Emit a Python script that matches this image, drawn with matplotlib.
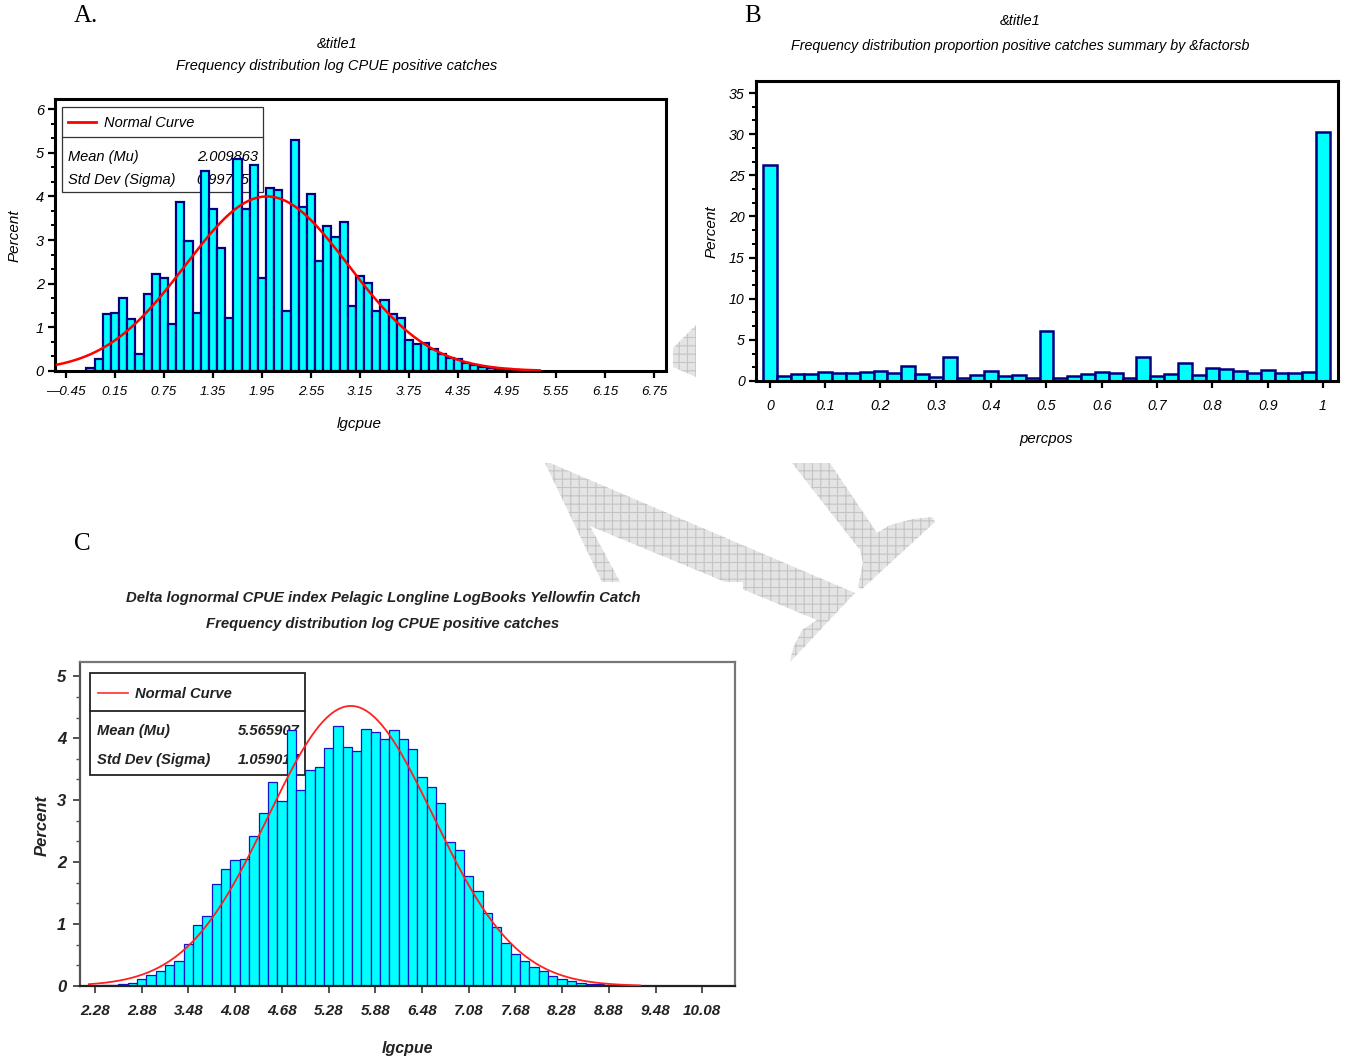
import numpy as np
import matplotlib
matplotlib.use('Agg')
import matplotlib.pyplot as plt
from matplotlib.patches import Rectangle, Polygon
from matplotlib.ticker import MultipleLocator

# ---------------- data ----------------
# panel A: log CPUE positive catches, bins of 0.1 starting at midpoint -0.15
a_first_mid = -0.15
a_bin = 0.1
a_pct = [0.06, 0.27, 1.31, 1.33, 1.67, 1.19, 0.40, 1.77, 2.23, 2.12,
         1.08, 3.87, 2.98, 1.33, 4.59, 3.72, 2.81, 1.21, 4.85, 3.70,
         4.72, 2.14, 4.19, 4.15, 1.38, 5.29, 3.76, 4.05, 2.52, 3.33,
         3.07, 3.42, 1.49, 2.18, 2.02, 1.37, 1.62, 1.30, 1.22, 0.72,
         0.61, 0.65, 0.51, 0.38, 0.29, 0.27, 0.19, 0.13, 0.10, 0.08,
         0.05, 0.04, 0.02, 0.01]
a_mean = 2.009863
a_sd = 0.997754
a_xticks = [-0.45, 0.15, 0.75, 1.35, 1.95, 2.55, 3.15, 3.75, 4.35, 4.95, 5.55, 6.15, 6.75]

# panel B: proportion positive, bins of 0.025 from 0 to 1
b_bin = 0.025
b_pct = [26.2, 0.6, 0.85, 0.85, 1.13, 0.93, 0.93, 1.13, 1.25, 0.93,
         1.86, 0.85, 0.53, 2.95, 0.4, 0.73, 1.25, 0.65, 0.73, 0.4,
         6.1, 0.4, 0.65, 0.8, 1.13, 0.93, 0.4, 2.95, 0.6, 0.85,
         2.22, 0.73, 1.54, 1.41, 1.25, 1.0, 1.33, 0.93, 0.93, 1.13,
         30.3]
b_xticks = [0, 0.1, 0.2, 0.3, 0.4, 0.5, 0.6, 0.7, 0.8, 0.9, 1.0]
b_xlabels = ['0', '0.1', '0.2', '0.3', '0.4', '0.5', '0.6', '0.7', '0.8', '0.9', '1']

# panel C: delta lognormal, bins of 0.12 starting at midpoint 2.28
c_first_mid = 2.28
c_bin = 0.12
c_pct = [0.005, 0.01, 0.015, 0.03, 0.05, 0.12, 0.17, 0.24, 0.34, 0.41,
         0.67, 0.98, 1.13, 1.65, 1.89, 2.04, 2.05, 2.42, 2.80, 3.30,
         2.98, 4.13, 3.16, 3.49, 3.53, 3.84, 4.19, 3.86, 3.80, 4.15,
         4.10, 3.98, 4.13, 3.98, 3.83, 3.38, 3.22, 2.95, 2.32, 2.20,
         1.77, 1.53, 1.18, 0.95, 0.70, 0.51, 0.41, 0.30, 0.25, 0.16,
         0.12, 0.08, 0.05, 0.04, 0.03, 0.02, 0.01, 0.01, 0.005, 0.005,
         0.005, 0.005, 0.005, 0.005, 0.0, 0.0, 0.0, 0.005]
c_mean = 5.565907
c_sd = 1.059017
c_xticks = [2.28, 2.88, 3.48, 4.08, 4.68, 5.28, 5.88, 6.48, 7.08, 7.68, 8.28, 8.88, 9.48, 10.08]

# ---------------- style ----------------
W, H = 1348, 1061
plt.rcParams['font.family'] = ['Liberation Sans', 'DejaVu Sans']
plt.rcParams['hatch.linewidth'] = 0.8
SERIF = ['Liberation Serif', 'DejaVu Serif']

CYAN = '#00FFFF'
NAVY = '#000080'
INK = '#222222'

fig = plt.figure(figsize=(W / 100, H / 100), dpi=100)


def px_axes(l, t, r, b):
    return fig.add_axes([l / W, 1 - b / H, (r - l) / W, (b - t) / H])


def ftext(x, y, s, **kw):
    kw.setdefault('ha', 'center')
    kw.setdefault('va', 'center')
    return fig.text(x / W, 1 - y / H, s, **kw)


def pxpoly(pts):
    return [(x / W, 1 - y / H) for x, y in pts]


def normal_pct(x, mu, sd, width):
    return 100 * width * np.exp(-0.5 * ((x - mu) / sd) ** 2) / (sd * np.sqrt(2 * np.pi))


# ---------------- watermark ----------------
wm_kw = dict(transform=fig.transFigure, facecolor='#e4e4e4', edgecolor='#c4c4c4',
             hatch='++', linewidth=0, zorder=-3)
fig.add_artist(Polygon(pxpoly([(673, 348), (696, 325), (696, 377), (673, 367)]), **wm_kw))
fig.add_artist(Polygon(pxpoly([(545, 463), (550, 463), (855, 593), (790, 662), (793, 648),
                               (802, 630), (817, 620), (590, 526), (620, 582), (602, 582)]), **wm_kw))
fig.add_artist(Polygon(pxpoly([(792, 463), (830, 463), (877, 533), (890, 525), (913, 519),
                               (932, 517), (935, 522), (862, 589), (858, 587), (863, 563),
                               (860, 550)]), **wm_kw))
# panel C picture sits on top of the watermark
fig.add_artist(Rectangle((0, 0), 743 / W, 1 - 582 / H, transform=fig.transFigure,
                         facecolor='white', edgecolor='none', zorder=-2))

# ---------------- panel A ----------------
ax = px_axes(55, 99, 666, 371)
a_mid = a_first_mid + a_bin * np.arange(len(a_pct))
ax.bar(a_mid, a_pct, width=a_bin, color=CYAN, edgecolor=NAVY, linewidth=1.6, zorder=2)
xa = np.linspace(-0.56, 5.35, 300)
ax.plot(xa, normal_pct(xa, a_mean, a_sd, a_bin), color='#FF0000', lw=1.8, zorder=3)
ax.set_xlim(-0.585, 6.897)
ax.set_ylim(0, 6.23)
ax.set_xticks(a_xticks, [f'{v:.2f}'.replace('-', '\u2014') for v in a_xticks])
ax.set_yticks(range(7))
ax.yaxis.set_minor_locator(MultipleLocator(1 / 3))
ax.tick_params(axis='both', which='major', direction='out', length=5, width=1.6, labelsize=9.6)
ax.tick_params(axis='x', pad=6)
ax.tick_params(axis='y', pad=3, labelsize=10.5)
ax.tick_params(axis='y', which='minor', direction='out', length=3, width=1.4)
for lab in ax.get_xticklabels() + ax.get_yticklabels():
    lab.set_style('italic')
for sp in ax.spines.values():
    sp.set_linewidth(2.2)

# legend box (drawn under bars)
ax.add_patch(Rectangle((0.0115, 0.658), 0.3285, 0.313, transform=ax.transAxes,
                       facecolor='white', edgecolor='#333333', lw=0.9, zorder=1))
ax.plot([0.0115, 0.34], [0.86, 0.86], transform=ax.transAxes, color='#333333', lw=0.9, zorder=1)
ax.plot([0.021, 0.067], [0.9155, 0.9155], transform=ax.transAxes, color='#FF0000', lw=2, zorder=1)
lt = dict(transform=ax.transAxes, va='center', style='italic', fontsize=10.5, zorder=1.5)
ax.text(0.080, 0.913, 'Normal Curve', ha='left', **lt)
ax.text(0.021, 0.787, 'Mean (Mu)', ha='left', **lt)
ax.text(0.232, 0.787, f'{a_mean:.6f}', ha='left', **lt)
ax.text(0.021, 0.702, 'Std Dev (Sigma)', ha='left', **lt)
ax.text(0.232, 0.702, f'{a_sd:.6f}', ha='left', **lt)

ftext(86, 16, 'A.', family=SERIF, fontsize=18)
ftext(337, 44, '&title1', style='italic', fontsize=10.5)
ftext(337, 66, 'Frequency distribution log CPUE positive catches', style='italic', fontsize=10.5)
ftext(359, 424, 'lgcpue', style='italic', fontsize=11)
ftext(15, 236, 'Percent', style='italic', fontsize=11, rotation=90)

# ---------------- panel B ----------------
bx = px_axes(756, 81, 1338, 381)
b_mid = b_bin * np.arange(len(b_pct))
bx.bar(b_mid, b_pct, width=b_bin, color=CYAN, edgecolor=NAVY, linewidth=1.8, zorder=2)
bx.set_xlim(-0.025, 1.027)
bx.set_ylim(0, 36.46)
bx.set_xticks(b_xticks, b_xlabels)
bx.set_yticks(range(0, 36, 5))
bx.yaxis.set_minor_locator(MultipleLocator(5 / 3))
bx.tick_params(axis='both', which='major', direction='out', length=5, width=1.6, labelsize=10.2)
bx.tick_params(axis='x', pad=8)
bx.tick_params(axis='y', pad=3)
bx.tick_params(axis='y', which='minor', direction='out', length=3, width=1.4)
for lab in bx.get_xticklabels() + bx.get_yticklabels():
    lab.set_style('italic')
for sp in bx.spines.values():
    sp.set_linewidth(2.2)

ftext(753, 16, 'B', family=SERIF, fontsize=18)
ftext(1020, 21, '&title1', style='italic', fontsize=10.5)
ftext(1020, 46, 'Frequency distribution proportion positive catches summary by &factorsb',
      style='italic', fontsize=10.3)
ftext(1046, 439, 'percpos', style='italic', fontsize=10.8)
ftext(712, 232, 'Percent', style='italic', fontsize=11, rotation=90)

# ---------------- panel C ----------------
cx = px_axes(80, 662, 735, 986)
c_mid = c_first_mid + c_bin * np.arange(len(c_pct))
cx.bar(c_mid, c_pct, width=c_bin, color=CYAN, edgecolor='#1414C8', linewidth=0.9, zorder=2)
xc = np.linspace(2.2, 9.28, 300)
cx.plot(xc, normal_pct(xc, c_mean, c_sd, c_bin), color='#FF2020', lw=1.3, zorder=3)
cx.set_xlim(2.087, 10.50)
cx.set_ylim(0, 5.23)
cx.set_xticks(c_xticks, [f'{v:.2f}' for v in c_xticks])
cx.set_yticks(range(6))
cx.yaxis.set_minor_locator(MultipleLocator(1 / 3))
cx.tick_params(axis='both', which='major', direction='out', length=5, width=1.2,
               color='#333333', labelsize=11)
cx.tick_params(axis='x', pad=8)
cx.tick_params(axis='y', pad=5, labelsize=12)
cx.tick_params(axis='y', which='minor', direction='out', length=3, width=1.0, color='#555555')
for lab in cx.get_xticklabels() + cx.get_yticklabels():
    lab.set_style('italic')
    lab.set_fontweight('bold')
    lab.set_color(INK)
for name, sp in cx.spines.items():
    sp.set_linewidth(1.6)
    sp.set_color('#777777')
cx.spines['bottom'].set_color(INK)
cx.spines['left'].set_color('#555555')

cx.add_patch(Rectangle((0.0153, 0.651), 0.3282, 0.315, transform=cx.transAxes,
                       facecolor='white', edgecolor=INK, lw=1.3, zorder=1))
cx.plot([0.0153, 0.3435], [0.849, 0.849], transform=cx.transAxes, color=INK, lw=1.3, zorder=1)
cx.plot([0.0275, 0.0733], [0.904, 0.904], transform=cx.transAxes, color='#FF4040', lw=1.3, zorder=1)
ct = dict(transform=cx.transAxes, va='center', style='italic', fontweight='bold',
          fontsize=10.6, color=INK, zorder=1.5)
cx.text(0.084, 0.902, 'Normal Curve', ha='left', **ct)
cx.text(0.026, 0.787, 'Mean (Mu)', ha='left', **ct)
cx.text(0.336, 0.787, f'{c_mean:.6f}', ha='right', **ct)
cx.text(0.026, 0.698, 'Std Dev (Sigma)', ha='left', **ct)
cx.text(0.336, 0.698, f'{c_sd:.6f}', ha='right', **ct)

ftext(82, 544, 'C', family=SERIF, fontsize=18)
ftext(383, 598, 'Delta lognormal CPUE index Pelagic Longline LogBooks Yellowfin Catch',
      style='italic', fontweight='bold', fontsize=10.7, color=INK)
ftext(383, 624, 'Frequency distribution log CPUE positive catches',
      style='italic', fontweight='bold', fontsize=10.7, color=INK)
ftext(407, 1049, 'lgcpue', style='italic', fontweight='bold', fontsize=11.5, color=INK)
ftext(42, 826, 'Percent', style='italic', fontweight='bold', fontsize=12, color=INK,
      rotation=90)

fig.savefig('out.png', dpi=100)
